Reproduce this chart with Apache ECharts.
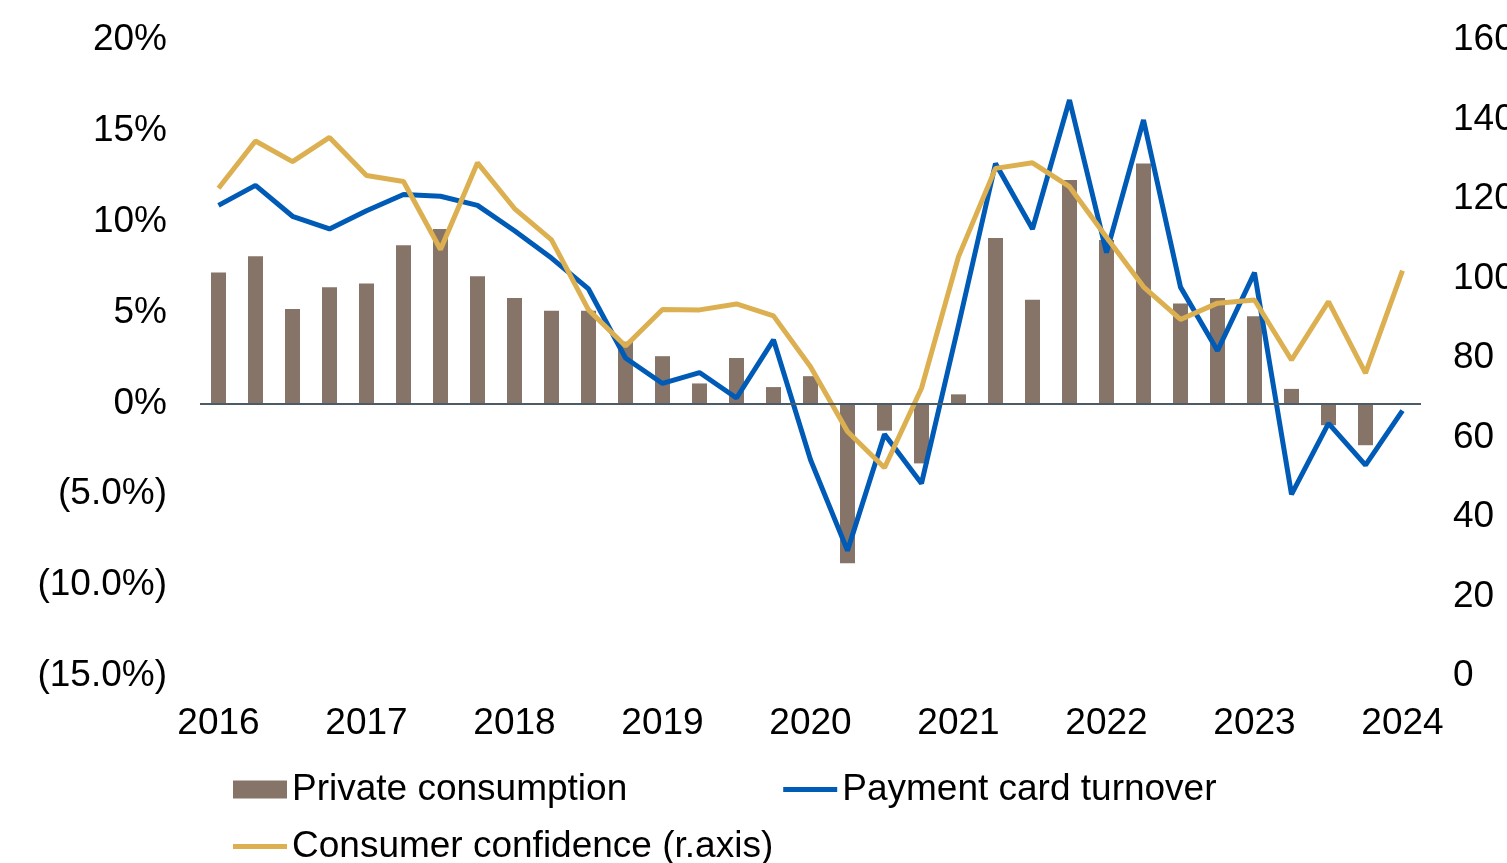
<!DOCTYPE html>
<html>
<head>
<meta charset="utf-8">
<script src="https://cdn.jsdelivr.net/npm/echarts@6/dist/echarts.min.js"></script>
<style>
  * { margin: 0; padding: 0; }
  html, body { width: 1507px; height: 863px; background: #fff; overflow: hidden; }
  #chart { width: 1507px; height: 863px; }
</style>
</head>
<body>
<div id="chart"></div>
<script>
// quarterly points, 2016 Q1 .. 2024 Q1
var quarters = [];
for (var y = 2016; y <= 2024; y++) {
  for (var q = 1; q <= 4; q++) {
    if (y === 2024 && q > 1) break;
    quarters.push(y + " Q" + q);
  }
}

// private consumption, % y/y (bars, left axis)
var privateConsumption = [7.2, 8.1, 5.2, 6.4, 6.6, 8.7, 9.6, 7.0, 5.8, 5.1, 5.1, 3.4,
  2.6, 1.1, 2.5, 0.9, 1.5, -8.8, -1.5, -3.3, 0.5, 9.1, 5.7, 12.3,
  9.0, 13.2, 5.5, 5.8, 4.8, 0.8, -1.2, -2.3, null];

// payment card turnover, % y/y (left axis)
var cardTurnover = [10.9, 12.0, 10.3, 9.6, 10.6, 11.5, 11.4, 10.9, 9.5, 8.0, 6.3, 2.5,
  1.1, 1.7, 0.3, 3.5, -3.1, -8.1, -1.7, -4.4, 4.3, 13.2, 9.6, 16.7,
  8.3, 15.6, 6.4, 2.9, 7.2, -5.0, -1.1, -3.4, -0.4];

// consumer confidence index (right axis)
var consumerConfidence = [122.7, 134.6, 129.4, 135.5, 125.9, 124.4, 107.3, 129.1, 117.6, 109.7, 92.1, 83.0,
  92.2, 92.1, 93.6, 90.6, 77.8, 61.5, 52.4, 72.4, 105.5, 127.7, 129.1, 123.1,
  110.4, 97.9, 89.7, 93.8, 94.6, 79.5, 94.2, 76.2, 102.0];

var fontFam = "'Liberation Sans', Arial, sans-serif";
var lineIcon = "path://M0,0H54V5H0Z";
var chart = echarts.init(document.getElementById("chart"));

var option = {
  animation: false,
  textStyle: { fontFamily: fontFam, color: "#000" },
  grid: { left: 200, right: 86, top: 40, bottom: 187, outerBoundsMode: "none", containLabel: false },
  legend: [
    {
      data: [
        { name: "Private consumption", icon: "rect" },
        { name: "Payment card turnover", icon: lineIcon }
      ],
      left: 233,
      top: 771,
      padding: 0,
      itemWidth: 54,
      itemHeight: 18,
      itemGap: 156,
      textStyle: { fontSize: 37, fontFamily: fontFam, color: "#000" }
    },
    {
      data: [{ name: "Consumer confidence (r.axis)", icon: lineIcon }],
      left: 233,
      top: 828,
      padding: 0,
      itemWidth: 54,
      itemHeight: 18,
      textStyle: { fontSize: 37, fontFamily: fontFam, color: "#000" }
    }
  ],
  xAxis: {
    type: "category",
    data: quarters,
    boundaryGap: true,
    axisLine: { show: false },
    axisTick: { show: false },
    axisLabel: {
      interval: 3,
      margin: 29,
      fontSize: 37,
      color: "#000",
      formatter: function (v) { return v.slice(0, 4); }
    }
  },
  yAxis: [
    {
      type: "value",
      min: -15,
      max: 20,
      interval: 5,
      splitLine: { show: false },
      axisLine: { show: false },
      axisTick: { show: false },
      axisLabel: {
        margin: 33,
        fontSize: 37,
        color: "#000",
        formatter: function (v) {
          return v < 0 ? "(" + Math.abs(v).toFixed(1) + "%)" : v + "%";
        }
      }
    },
    {
      type: "value",
      min: 0,
      max: 160,
      interval: 20,
      splitLine: { show: false },
      axisLine: { show: false },
      axisTick: { show: false },
      axisLabel: { margin: 32, fontSize: 37, color: "#000" }
    }
  ],
  series: [
    {
      name: "Private consumption",
      type: "bar",
      yAxisIndex: 0,
      data: privateConsumption,
      barWidth: 15,
      itemStyle: { color: "#877468" },
      markLine: {
        silent: true,
        symbol: "none",
        label: { show: false },
        lineStyle: { color: "#4d5b66", width: 2, type: "solid" },
        data: [{ yAxis: 0 }]
      }
    },
    {
      name: "Payment card turnover",
      type: "line",
      yAxisIndex: 0,
      data: cardTurnover,
      symbol: "none",
      showSymbol: false,
      lineStyle: { color: "#005bb7", width: 5 },
      itemStyle: { color: "#005bb7" }
    },
    {
      name: "Consumer confidence (r.axis)",
      type: "line",
      yAxisIndex: 1,
      data: consumerConfidence,
      symbol: "none",
      showSymbol: false,
      lineStyle: { color: "#dcb050", width: 5 },
      itemStyle: { color: "#dcb050" }
    }
  ]
};

chart.setOption(option);
</script>
</body>
</html>
